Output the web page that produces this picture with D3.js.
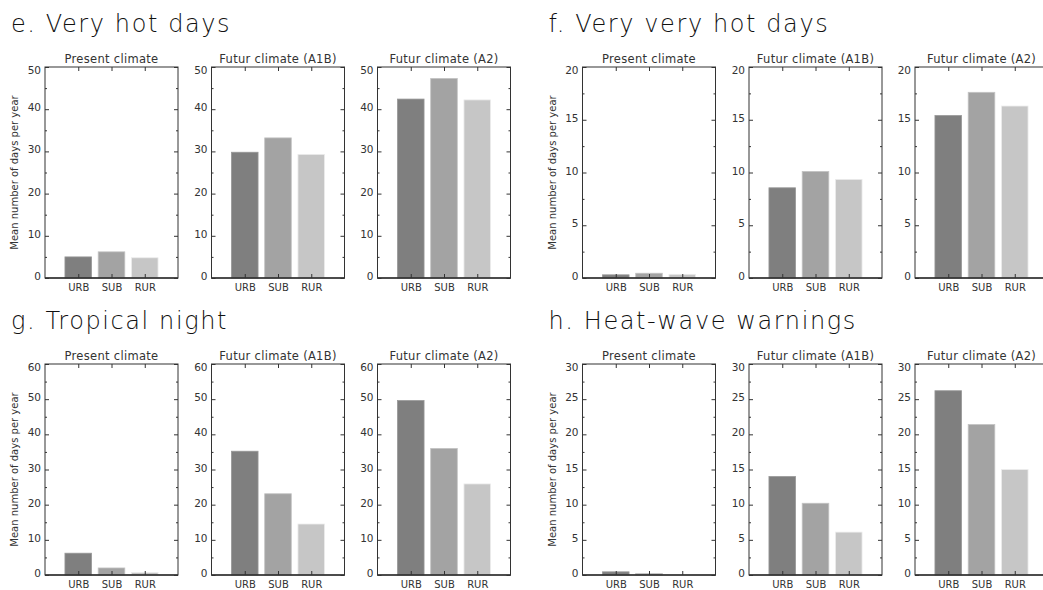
<!DOCTYPE html>
<html>
<head>
<meta charset="utf-8">
<script src="https://cdn.jsdelivr.net/npm/d3@7"></script>
<style>
  body { margin: 0; background: #fff; }
  text { font-family: "DejaVu Sans", sans-serif; fill: #333; }
  .title { font-weight: 200; fill: #111; }
</style>
</head>
<body>
<script>
// urban / suburban / rural day counts

var categories = ["URB", "SUB", "RUR"];
var climates = ["Present climate", "Futur climate (A1B)", "Futur climate (A2)"];
var indicators = ["e. Very hot days", "f. Very very hot days", "g. Tropical night", "h. Heat-wave warnings"];
var yMax = [50, 20, 60, 30];
var yStep = [10, 5, 10, 5];

// one row per climate, one value per category
var veryHotDays      = [[5.0, 6.2, 4.8], [29.8, 33.2, 29.3], [42.4, 47.3, 42.2]];
var veryVeryHotDays  = [[0.3, 0.45, 0.35], [8.55, 10.1, 9.35], [15.4, 17.6, 16.3]];
var tropicalNight    = [[6.2, 2.0, 0.7], [35.2, 23.1, 14.5], [49.6, 36.0, 25.9]];
var heatWaveWarnings = [[0.45, 0.2, 0.0], [14.0, 10.2, 6.1], [26.2, 21.4, 15.0]];
var values = [veryHotDays, veryVeryHotDays, tropicalNight, heatWaveWarnings];

var colors = ["#7f7f7f", "#a3a3a3", "#c6c6c6"];

var W = 1043, H = 590;
var panelW = 133, panelH = 211;
var colLeft = [45, 211.5, 377.5];   // inside one block
var blockLeft = [0, 537.5];
var rowTop = [67, 364];

var svg = d3.select("body").append("svg")
    .attr("width", W)
    .attr("height", H);

var x = d3.scaleLinear().domain([0, 4]).range([0, panelW]);
var barW = x(0.8) - x(0);

indicators.forEach(function(title, k) {
  var bx = blockLeft[k % 2], ty = rowTop[Math.floor(k / 2)];

  svg.append("text")
      .attr("class", "title")
      .attr("x", bx + 11)
      .attr("y", ty - 35)
      .style("font-size", "24px")
      .style("letter-spacing", "1.6px")
      .text(title);

  var y = d3.scaleLinear().domain([0, yMax[k]]).range([panelH, 0]);
  var majors = d3.range(0, yMax[k] + 0.001, yStep[k]);
  var minors = d3.range(yStep[k] / 2, yMax[k], yStep[k]);

  climates.forEach(function(clim, c) {
    var g = svg.append("g")
        .attr("transform", "translate(" + (bx + colLeft[c]) + "," + ty + ")");

    g.append("text")
        .attr("x", panelW / 2)
        .attr("y", -4)
        .attr("text-anchor", "middle")
        .style("font-size", "11.5px")
        .style("letter-spacing", "0.3px")
        .text(clim);

    g.selectAll("rect.bar")
      .data(values[k][c])
      .enter().append("rect")
        .attr("class", "bar")
        .attr("x", function(d, i) { return x(i + 1) - barW / 2; })
        .attr("width", barW)
        .attr("y", function(d) { return y(d); })
        .attr("height", function(d) { return panelH - y(d); })
        .attr("fill", function(d, i) { return colors[i]; })
        .attr("stroke", function(d, i) { return d3.color(colors[i]).brighter(0.5); })
        .attr("stroke-width", 0.8);

    // left axis, ticks inward
    var left = g.append("g")
        .call(d3.axisLeft(y).tickValues(majors).tickSize(-4).tickPadding(4).tickFormat(d3.format("d")));
    left.selectAll("text").style("font-size", "10.5px").attr("dy", "0.15em");
    left.selectAll("text").filter(function(d) { return d === yMax[k]; }).attr("dy", "0.6em");
    g.append("g")
        .call(d3.axisLeft(y).tickValues(minors).tickSize(-2).tickFormat(""));

    // right axis
    g.append("g").attr("transform", "translate(" + panelW + ",0)")
        .call(d3.axisRight(y).tickValues(majors).tickSize(-4).tickFormat(""));
    g.append("g").attr("transform", "translate(" + panelW + ",0)")
        .call(d3.axisRight(y).tickValues(minors).tickSize(-2).tickFormat(""));

    // top and bottom category ticks
    g.append("g")
        .call(d3.axisTop(x).tickValues([1, 2, 3]).tickSize(-4).tickFormat(""));
    var bottom = g.append("g").attr("transform", "translate(0," + panelH + ")")
        .call(d3.axisBottom(x).tickValues([1, 2, 3]).tickSize(-4).tickPadding(6)
          .tickFormat(function(d) { return categories[d - 1]; }));
    bottom.selectAll("text").style("font-size", "10px");

    g.selectAll(".domain").remove();
    g.selectAll(".tick line").attr("stroke", "#333");

    g.append("rect")
        .attr("width", panelW)
        .attr("height", panelH)
        .attr("fill", "none")
        .attr("stroke", "#333")
        .attr("stroke-width", 1);
    g.append("line")
        .attr("x1", 0).attr("x2", panelW)
        .attr("y1", panelH).attr("y2", panelH)
        .attr("stroke", "#333")
        .attr("stroke-width", 1.6);

    if (c === 0) {
      g.append("text")
          .attr("transform", "translate(-27," + (panelH / 2) + ") rotate(-90)")
          .attr("text-anchor", "middle")
          .style("font-size", "10px")
          .text("Mean number of days per year");
    }
  });
});
</script>
</body>
</html>
